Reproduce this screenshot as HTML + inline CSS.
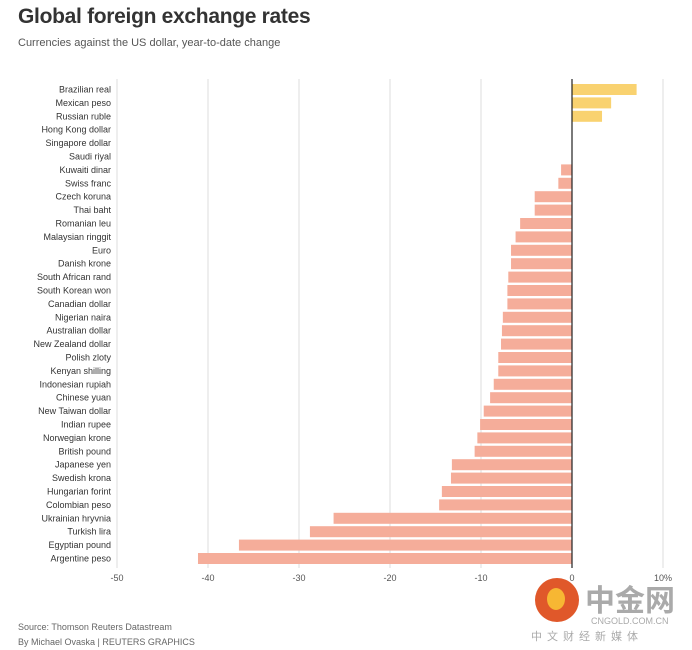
<!DOCTYPE html>
<html><head><meta charset="utf-8">
<style>
body{margin:0;width:692px;height:650px;background:#fff;font-family:"Liberation Sans",sans-serif;overflow:hidden;position:relative}
#title{position:absolute;left:18px;top:5px;font-size:21px;font-weight:bold;color:#333;letter-spacing:-0.3px}
#sub{position:absolute;left:18px;top:37px;font-size:11px;color:#555}
#src{position:absolute;left:18px;top:620px;font-size:9px;color:#666;line-height:15px}
svg{position:absolute;left:0;top:0}
</style></head><body>
<div id="title">Global foreign exchange rates</div>
<div id="sub">Currencies against the US dollar, year-to-date change</div>
<svg id="chart" width="692" height="650"></svg>
<div id="src">Source: Thomson Reuters Datastream<br>By Michael Ovaska | REUTERS GRAPHICS</div>
<div style="position:absolute;left:535px;top:578px;width:150px;height:62px">
<div style="position:absolute;left:0;top:0;width:44px;height:44px;border-radius:50%;background:#e0582a"></div>
<div style="position:absolute;left:12px;top:10px;width:18px;height:22px;border-radius:50%;background:#f7b733"></div>
<div style="position:absolute;left:50px;top:-2px;font-size:30px;color:#aaa;font-family:'Noto Sans CJK SC',sans-serif;font-weight:bold">中金网</div>
<div style="position:absolute;left:56px;top:38px;font-size:9px;color:#aaa">CNGOLD.COM.CN</div>
<div style="position:absolute;left:-4px;top:50px;font-size:11px;color:#aaa;letter-spacing:5px;font-family:'Noto Sans CJK SC',sans-serif">中文财经新媒体</div>
</div>
<script>
const categories=["Brazilian real","Mexican peso","Russian ruble","Hong Kong dollar","Singapore dollar","Saudi riyal","Kuwaiti dinar","Swiss franc","Czech koruna","Thai baht","Romanian leu","Malaysian ringgit","Euro","Danish krone","South African rand","South Korean won","Canadian dollar","Nigerian naira","Australian dollar","New Zealand dollar","Polish zloty","Kenyan shilling","Indonesian rupiah","Chinese yuan","New Taiwan dollar","Indian rupee","Norwegian krone","British pound","Japanese yen","Swedish krona","Hungarian forint","Colombian peso","Ukrainian hryvnia","Turkish lira","Egyptian pound","Argentine peso"];
const values=[7.1,4.3,3.3,0,0,0,-1.2,-1.5,-4.1,-4.1,-5.7,-6.2,-6.7,-6.7,-7,-7.1,-7.1,-7.6,-7.7,-7.8,-8.1,-8.1,-8.6,-9.0,-9.7,-10.1,-10.4,-10.7,-13.2,-13.3,-14.3,-14.6,-26.2,-28.8,-36.6,-41.1];
const ticks=[-50,-40,-30,-20,-10,0,10];
const tickLabels=["-50","-40","-30","-20","-10","0","10%"];
const svg=document.getElementById('chart');const NS='http://www.w3.org/2000/svg';
const x=v=>572+v*9.1;
const y0=84,step=13.4,bh=11;
const y=i=>y0+i*step;
function mk(t,a){const e=document.createElementNS(NS,t);for(const k in a)e.setAttribute(k,a[k]);svg.appendChild(e);return e;}
ticks.forEach((t,i)=>{
 if(t!==0){const g=mk('line',{x1:x(t),x2:x(t),y1:79,y2:568,stroke:'#ddd','stroke-width':1});
 
 }
 const l=mk('text',{x:x(t),y:581,'font-size':9,fill:'#555','text-anchor':'middle'});l.textContent=tickLabels[i];
 
 
});
categories.forEach((c,i)=>{
 const v=values[i];
 const r=mk('rect',{x:Math.min(x(0),x(v)),y:y(i),width:Math.abs(x(v)-x(0)),height:bh,fill:v>0?'#f9d270':'#f5ad9a'});
 
 
 const l=mk('text',{x:111,y:y(i)+8.5,'font-size':9,fill:'#333','text-anchor':'end'});l.textContent=c;
 
 
});
const z=mk('line',{x1:x(0),x2:x(0),y1:79,y2:568,stroke:'#222','stroke-width':1.2});


</script>
</body></html>
